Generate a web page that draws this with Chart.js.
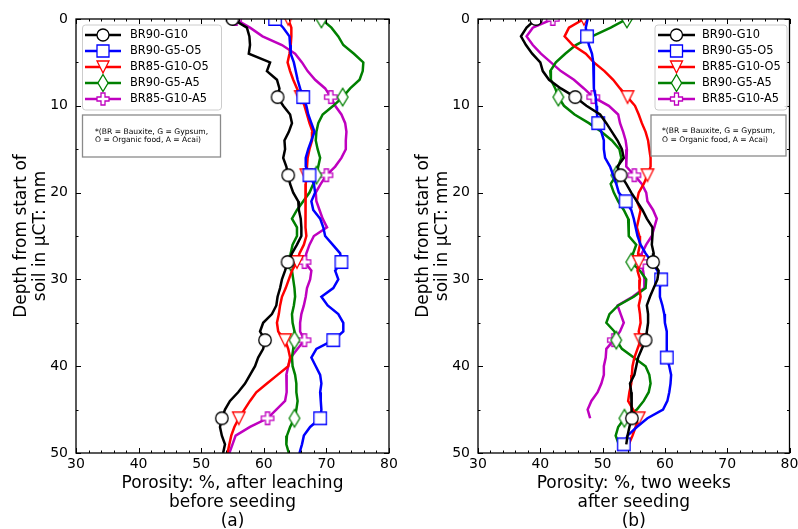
<!DOCTYPE html>
<html>
<head>
<meta charset="utf-8">
<script src="https://cdn.jsdelivr.net/npm/chart.js@4.4.0/dist/chart.umd.min.js"></script>
<style>
    html, body { margin: 0; padding: 0; background: #fff; }
    #page { position: relative; width: 798px; height: 529px; overflow: hidden; background: #fff; }
    .panel { position: absolute; top: 0; }
</style>
</head>
<body>
<div id="page">
    <div class="panel" style="left:0"><canvas id="chart-a" width="400" height="529" style="width:400px;height:529px"></canvas></div>
    <div class="panel" style="left:400px"><canvas id="chart-b" width="398" height="529" style="width:398px;height:529px"></canvas></div>
</div>
<script>
// Data
const depthMm = [0, 1, 2, 3, 4, 5, 6, 7, 8, 9, 10, 11, 12, 13, 14, 15, 16, 17, 18, 19, 20,
    21, 22, 23, 24, 25, 26, 27, 28, 29, 30, 31, 32, 33, 34, 35, 36, 37, 38, 39, 40,
    41, 42, 43, 44, 45, 46, 47, 48, 49, 50];

const seriesLabels = ["BR90-G10", "BR90-G5-O5", "BR85-G10-O5", "BR90-G5-A5", "BR85-G10-A5"];
const seriesColors = ["#000000", "#0000ff", "#ff0000", "#008000", "#bf00bf"];
const seriesShapes = ["circle", "square", "triangleDown", "thinDiamond", "plusFilled"];

// (a) porosity after leaching, before seeding
const aBR90G10 = [55.0, 57.3, 57.7, 57.8, 57.6, 61.0, 60.5, 62.1, 62.5, 62.2, 63.1, 64.2, 64.5, 64.0, 63.3, 63.4, 63.1, 63.6, 63.9, 64.2,
    64.7, 65.5, 65.6, 65.9, 66.0, 66.0, 65.3, 64.5, 63.8, 63.4, 62.9, 62.6, 62.2, 62.0, 61.3, 59.9, 59.4, 60.2, 59.9, 59.1,
    58.6, 57.8, 57.0, 55.9, 54.6, 53.8, 53.3, 53.0, 53.3, 53.8, 53.5];
const aBR90G5O5 = [61.8, 63.1, 64.1, 64.2, 64.3, 64.8, 65.1, 65.4, 65.8, 66.3, 66.8, 67.1, 67.6, 68.1, 67.6, 67.1, 66.7, 66.7, 67.3, 68.0,
    68.2, 67.6, 67.9, 69.0, 69.5, 69.8, 71.0, 72.2, 72.4, 71.4, 71.9, 71.1, 69.2, 70.2, 71.9, 72.7, 72.7, 71.1, 68.4, 67.6,
    68.3, 69.0, 69.2, 69.0, 69.1, 69.2, 69.0, 67.4, 66.4, 66.1, 65.7];
const aBR85G10O5 = [63.9, 64.4, 64.4, 64.3, 64.1, 63.8, 64.2, 64.7, 65.3, 65.9, 66.5, 66.9, 67.3, 67.8, 67.7, 67.3, 67.0, 66.9, 66.8, 66.7,
    66.7, 66.6, 66.6, 66.7, 66.7, 66.8, 66.4, 65.7, 65.3, 64.5, 64.0, 63.5, 62.9, 62.6, 62.4, 62.1, 62.3, 63.4, 63.9, 64.2,
    63.9, 62.2, 60.5, 58.8, 57.8, 56.9, 56.0, 55.3, 54.8, 54.5, 54.2];
const aBR90G5A5 = [69.2, 70.8, 71.9, 72.7, 74.4, 75.9, 75.8, 75.3, 73.8, 72.6, 71.1, 69.4, 68.7, 68.4, 68.3, 68.6, 69.0, 68.7, 68.4, 67.9,
    67.3, 66.3, 65.3, 64.5, 65.3, 65.3, 64.6, 64.3, 64.3, 64.5, 64.7, 64.9, 65.0, 64.8, 64.5, 64.6, 64.9, 64.9, 64.7, 64.5,
    64.6, 65.0, 65.2, 65.2, 65.4, 65.2, 64.9, 64.2, 63.7, 63.6, 64.0];
const aBR85G10A5 = [55.4, 57.8, 59.8, 62.9, 65.0, 66.1, 67.0, 68.2, 69.8, 70.7, 71.4, 72.4, 73.0, 73.2, 73.1, 73.1, 72.4, 71.4, 70.0, 69.1,
    68.3, 68.4, 68.9, 69.4, 70.1, 68.0, 67.3, 66.8, 66.5, 67.6, 67.4, 66.9, 66.7, 66.4, 66.0, 65.8, 65.8, 66.5, 65.4, 64.3,
    63.9, 63.6, 63.6, 63.7, 63.4, 62.0, 60.6, 57.8, 55.5, 55.0, 54.5];

// (b) porosity two weeks after seeding
const bBR90G10 = [39.3, 37.8, 36.9, 37.7, 38.7, 40.0, 40.4, 41.4, 43.3, 45.6, 47.4, 49.6, 50.6, 51.5, 52.4, 53.1, 53.4, 52.4, 52.9, 53.8,
    54.6, 55.5, 56.4, 57.1, 58.0, 58.0, 57.9, 58.2, 58.1, 59.0, 58.8, 58.2, 57.6, 57.1, 57.3, 57.3, 57.1, 56.9, 56.3, 55.7,
    55.4, 55.1, 54.4, 54.6, 54.7, 54.6, 54.7, 54.3, 54.0, 53.8, null];
const bBR90G5O5 = [47.6, 47.3, 47.5, 47.8, 48.3, 48.5, 48.6, 48.6, 48.6, 48.9, 49.0, 49.1, 49.3, 49.8, 50.2, 50.2, 50.4, 51.2, 51.7, 52.2,
    52.6, 53.7, 54.6, 55.0, 55.3, 55.6, 56.1, 56.9, 57.9, 58.8, 59.4, 59.2, 59.2, 59.6, 59.9, 60.0, 60.3, 60.3, 60.3, 60.3,
    60.7, 61.0, 60.9, 60.7, 60.4, 59.7, 57.2, 55.5, 54.0, 53.4, null];
const bBR85G10O5 = [47.0, 44.6, 43.9, 45.2, 47.3, 48.6, 50.3, 51.7, 52.8, 54.0, 55.2, 55.8, 56.3, 56.9, 57.3, 57.5, 57.7, 57.7, 57.2, 56.6,
    55.8, 55.5, 56.1, 55.8, 55.5, 55.9, 56.0, 55.7, 55.8, 55.6, 56.0, 55.9, 56.1, 55.8, 56.0, 56.1, 55.8, 56.1, 55.6, 55.1,
    54.8, 54.7, 54.6, 54.3, 54.1, 54.9, 55.8, 55.3, 54.8, 54.2, null];
const bBR90G5A5 = [53.9, 51.3, 48.3, 45.7, 44.0, 42.5, 41.6, 41.7, 42.4, 42.9, 43.8, 45.5, 47.8, 49.8, 51.5, 52.7, 53.0, 52.5, 52.2, 51.3,
    51.8, 52.5, 53.4, 54.1, 54.2, 54.2, 55.4, 54.9, 54.6, 56.0, 57.0, 56.9, 55.0, 52.5, 51.1, 50.6, 51.9, 52.2, 53.1, 55.0,
    56.9, 57.5, 57.7, 57.4, 56.6, 55.5, 53.5, 52.5, 52.1, 52.6, null];
const bBR85G10A5 = [42.0, 38.8, 37.8, 38.8, 40.1, 41.7, 43.3, 45.4, 47.0, 48.5, 51.0, 52.5, 52.8, 53.3, 53.7, 53.9, 53.8, 53.8, 55.1, 56.3,
    57.0, 57.2, 58.1, 58.7, 58.3, 57.9, 57.0, 56.3, 56.2, 56.5, 56.7, 56.7, 54.8, 52.4, 52.9, 53.4, 52.8, 51.8, 50.6, 50.5,
    50.2, 50.2, 49.8, 49.2, 48.2, 47.6, 48.0, null, null, null, null];

// Marker rows (index into depthMm)
const marksA = [
    [0, 9, 18, 28, 37, 46],
    [0, 9, 18, 28, 37, 46],
    [0, 9, 18, 28, 37, 46],
    [0, 9, 18, 28, 37, 46],
    [0, 9, 18, 28, 37, 46]
];
const marksB = [
    [0, 9, 18, 28, 37, 46],
    [2, 12, 21, 30, 39, 49],
    [0, 9, 18, 28, 37, 46],
    [0, 9, 18, 28, 37, 46],
    [0, 9, 18, 28, 37]
];

const noteLines = ["*(BR = Bauxite, G = Gypsum,", "O = Organic food, A = Acai)"];

// Function
const drawMarker = (ctx, shape, cx, cy, color, s) => {
    const h = s / 2;
    ctx.beginPath();
    if (shape === "circle") {
        ctx.arc(cx, cy, h, 0, Math.PI * 2);
    } else if (shape === "square") {
        ctx.rect(cx - h, cy - h, s, s);
    } else if (shape === "triangleDown") {
        ctx.moveTo(cx, cy + h);
        ctx.lineTo(cx - h, cy - h);
        ctx.lineTo(cx + h, cy - h);
        ctx.closePath();
    } else if (shape === "thinDiamond") {
        const dy = s * 0.707, dx = dy * 0.6;
        ctx.moveTo(cx, cy - dy);
        ctx.lineTo(cx + dx, cy);
        ctx.lineTo(cx, cy + dy);
        ctx.lineTo(cx - dx, cy);
        ctx.closePath();
    } else if (shape === "plusFilled") {
        const a = s / 6;
        const pts = [[-a, -h], [a, -h], [a, -a], [h, -a], [h, a], [a, a], [a, h], [-a, h], [-a, a], [-h, a], [-h, -a], [-a, -a]];
        pts.forEach((p, i) => i === 0 ? ctx.moveTo(cx + p[0], cy + p[1]) : ctx.lineTo(cx + p[0], cy + p[1]));
        ctx.closePath();
    }
    ctx.fillStyle = "#ffffff";
    ctx.fill();
    ctx.lineWidth = 1.3;
    ctx.strokeStyle = color;
    ctx.stroke();
};

const markerImage = (shape, color) => {
    const c = document.createElement("canvas");
    c.width = 26;
    c.height = 26;
    drawMarker(c.getContext("2d"), shape, 13, 13, color, 12.5);
    return c;
};

const buildDatasets = (seriesValues, marks) => seriesValues.map((vals, i) => ({
    label: seriesLabels[i],
    shape: seriesShapes[i],
    data: vals.map((v, k) => ({x: v, y: depthMm[k]})).filter(p => p.x !== null),
    borderColor: seriesColors[i],
    backgroundColor: seriesColors[i],
    borderWidth: 2.5,
    tension: 0,
    fill: false,
    clip: 0,
    pointStyle: markerImage(seriesShapes[i], seriesColors[i]),
    pointRadius: c => marks[i].includes(c.dataIndex) ? 6 : 0,
    pointHoverRadius: 0,
    pointHitRadius: 0
}));

// Plugins
const frameTicks = {
    id: "frameTicks",
    afterDatasetsDraw(chart) {
        const {ctx, chartArea: a, scales: {x, y}} = chart;
        ctx.save();
        ctx.strokeStyle = "#000";
        ctx.lineWidth = 1;
        ctx.beginPath();
        for (let v = 30; v <= 80; v += 2) {
            const px = Math.round(x.getPixelForValue(v)) + 0.5;
            const len = v % 10 === 0 ? 5 : 2.5;
            ctx.moveTo(px, a.bottom); ctx.lineTo(px, a.bottom - len);
            ctx.moveTo(px, a.top); ctx.lineTo(px, a.top + len);
        }
        for (let d = 0; d <= 50; d += 5) {
            const py = Math.round(y.getPixelForValue(d)) + 0.5;
            const len = d % 10 === 0 ? 5 : 2.5;
            ctx.moveTo(a.left, py); ctx.lineTo(a.left + len, py);
            ctx.moveTo(a.right, py); ctx.lineTo(a.right - len, py);
        }
        ctx.stroke();
        ctx.lineWidth = 1.3;
        ctx.strokeRect(a.left, a.top, a.right - a.left, a.bottom - a.top);
        ctx.restore();
    }
};

const boxLegend = {
    id: "boxLegend",
    afterDraw(chart, args, o) {
        const ctx = chart.ctx;
        ctx.save();
        // legend frame
        ctx.beginPath();
        ctx.roundRect(o.x, o.y, o.w, o.h, 3);
        ctx.fillStyle = "rgba(255,255,255,0.85)";
        ctx.fill();
        ctx.lineWidth = 1;
        ctx.strokeStyle = "#cccccc";
        ctx.stroke();
        ctx.font = "11.4px 'DejaVu Sans'";
        ctx.textBaseline = "middle";
        chart.data.datasets.forEach((ds, i) => {
            const ry = o.y + o.row0 + i * o.rowStep;
            ctx.beginPath();
            ctx.moveTo(o.lx0, ry);
            ctx.lineTo(o.lx1, ry);
            ctx.lineWidth = 2.5;
            ctx.strokeStyle = ds.borderColor;
            ctx.stroke();
            drawMarker(ctx, ds.shape, (o.lx0 + o.lx1) / 2, ry, ds.borderColor, 12);
            ctx.fillStyle = "#000";
            ctx.fillText(ds.label, o.tx, ry);
        });
        // note box
        const n = o.note;
        ctx.fillStyle = "#ffffff";
        ctx.fillRect(n.x, n.y, n.w, n.h);
        ctx.lineWidth = 1.3;
        ctx.strokeStyle = "#8a8a8a";
        ctx.strokeRect(n.x, n.y, n.w, n.h);
        ctx.fillStyle = "#000";
        ctx.font = "7.6px 'DejaVu Sans'";
        noteLines.forEach((t, i) => ctx.fillText(t, n.tx, n.ty0 + i * n.dy));
        ctx.restore();
    }
};

const makeOptions = (cfg) => ({
    responsive: false,
    animation: false,
    events: [],
    indexAxis: "y",
    layout: {padding: {top: 19, right: cfg.padRight, left: 0, bottom: 0}},
    plugins: {
        legend: {display: false},
        tooltip: {enabled: false},
        boxLegend: cfg.legend
    },
    scales: {
        x: {
            type: "linear",
            position: "bottom",
            min: 30,
            max: 80,
            ticks: {stepSize: 10, padding: 3, color: "#000", font: {size: 14}},
            grid: {display: false, drawTicks: false},
            border: {display: false},
            title: {
                display: true,
                text: cfg.xTitle,
                color: "#000",
                font: {size: 17, lineHeight: "19px"},
                padding: {top: 0, bottom: -2.5}
            },
            afterFit: s => { s.height = 76; s.paddingLeft = 0; s.paddingRight = 0; }
        },
        y: {
            type: "linear",
            position: "left",
            min: 0,
            max: 50,
            reverse: true,
            ticks: {stepSize: 10, padding: 8, color: "#000", font: {size: 14}},
            grid: {display: false, drawTicks: false},
            border: {display: false},
            title: {
                display: true,
                text: ["Depth from start of", "soil in \u03bcCT: mm"],
                color: "#000",
                font: {size: 17, lineHeight: "19px"},
                padding: {top: cfg.yTitlePad, bottom: 0}
            },
            afterFit: s => { s.width = cfg.yWidth; s.paddingTop = 0; s.paddingBottom = 0; }
        }
    }
});

// Init
Chart.defaults.font.family = "'DejaVu Sans', sans-serif";
Chart.defaults.color = "#000";

new Chart(document.querySelector("#chart-a"), {
    type: "line",
    data: {datasets: buildDatasets([aBR90G10, aBR90G5O5, aBR85G10O5, aBR90G5A5, aBR85G10A5], marksA)},
    options: makeOptions({
        padRight: 11,
        yWidth: 76,
        yTitlePad: 12.5,
        xTitle: ["Porosity: %, after leaching", "before seeding", "(a)"],
        legend: {
            x: 82.5, y: 25, w: 139, h: 85, row0: 10, rowStep: 16, lx0: 85, lx1: 121, tx: 130,
            note: {x: 82.5, y: 115, w: 138, h: 42, tx: 95, ty0: 131.8, dy: 8.4}
        }
    }),
    plugins: [frameTicks, boxLegend]
});

new Chart(document.querySelector("#chart-b"), {
    type: "line",
    data: {datasets: buildDatasets([bBR90G10, bBR90G5O5, bBR85G10O5, bBR90G5A5, bBR85G10A5], marksB)},
    options: makeOptions({
        padRight: 6,
        yWidth: 78,
        yTitlePad: 14.5,
        xTitle: ["Porosity: %, two weeks", "after seeding", "(b)"],
        legend: {
            x: 255, y: 25, w: 132, h: 85, row0: 10, rowStep: 16, lx0: 258, lx1: 295, tx: 302,
            note: {x: 251, y: 115, w: 135, h: 41, tx: 262, ty0: 131.5, dy: 8.4}
        }
    }),
    plugins: [frameTicks, boxLegend]
});
</script>
</body>
</html>
